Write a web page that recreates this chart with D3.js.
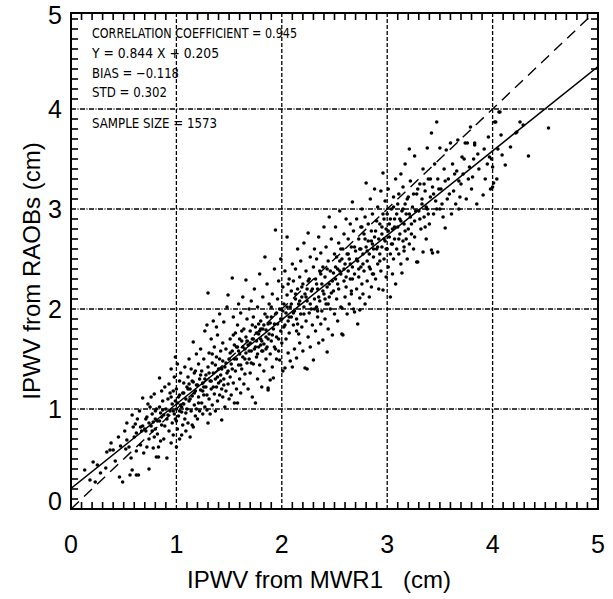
<!DOCTYPE html>
<html>
<head>
<meta charset="utf-8">
<script src="https://cdn.jsdelivr.net/npm/d3@7"></script>
<style>
  body { margin: 0; background: #fff; }
  svg text { font-family: "Liberation Sans", Arial, sans-serif; fill: #000; }
</style>
</head>
<body>
<svg id="chart" width="613" height="599"></svg>
<script>
// tick labels and titles
const xTicks = [0, 1, 2, 3, 4, 5];
const yTicks = [0, 1, 2, 3, 4, 5];
const xTitle = "IPWV from MWR1\u00a0\u00a0\u00a0(cm)";
const yTitle = "IPWV from RAOBs (cm)";

// statistics block
const statLines = [
  "CORRELATION COEFFICIENT = 0.945",
  "Y = 0.844 X + 0.205",
  "BIAS = \u22120.118",
  "STD = 0.302",
  "SAMPLE SIZE = 1573"
];
const fitSlope = 0.844;
const fitIntercept = 0.205;

// [MWR1, RAOB] pairs (cm)
const samples = [
  [0.13,0.39],[0.18,0.29],[0.23,0.27],[0.25,0.44],[0.28,0.36],[0.21,0.47],
  [0.34,0.57],[0.37,0.59],[0.4,0.59],[0.45,0.72],[0.46,0.32],[0.49,0.27],[0.42,0.48],[0.33,0.41],[0.47,0.63],[0.38,0.66],
  [0.53,0.86],[0.53,0.69],[0.56,0.34],[0.58,0.94],[0.58,0.39],[0.62,0.34],[0.64,0.34],[0.51,0.78],[0.55,0.62],[0.6,0.72],[0.61,0.85],
  [0.63,0.9],[0.66,0.64],[0.68,1.11],[0.67,0.78],[0.69,0.56],[0.57,0.51],[0.65,0.98],[0.52,0.6],[0.59,0.82],[0.62,0.58],[0.68,0.83],
  [0.72,0.92],[0.74,0.4],[0.74,0.7],[0.75,1.02],[0.76,0.83],[0.78,0.61],[0.79,1.15],[0.8,0.9],[0.81,0.52],[0.82,0.75],[0.83,0.62],
  [0.83,0.52],[0.84,1.31],[0.85,0.96],[0.86,0.84],[0.87,1.08],[0.88,0.7],[0.89,1.22],[0.71,0.78],[0.73,1.05],[0.77,0.95],[0.79,0.72],
  [0.81,1.0],[0.84,0.88],[0.86,1.18],[0.88,0.94],[0.72,0.62],[0.76,1.12],[0.8,0.8],[0.85,0.68],[0.87,0.99],[0.89,0.83],[0.78,0.87],
  [0.91,0.51],[0.91,0.9],[0.92,1.1],[0.93,0.78],[0.93,1.25],[0.94,0.98],[0.95,0.66],[0.95,1.4],[0.96,1.05],[0.96,0.86],[0.97,1.18],
  [0.97,0.74],[0.98,1.32],[0.98,0.95],[0.99,1.52],[0.99,1.08],[1.0,0.62],[1.0,0.88],[1.0,1.0],[1.0,1.2],[1.01,0.8],[1.01,1.45],
  [1.02,1.12],[1.02,0.93],[1.03,1.28],[1.03,0.7],[1.04,1.04],[1.04,1.36],[1.05,0.74],[1.05,0.97],[1.06,1.16],[1.06,0.84],[1.07,1.26],
  [1.07,1.05],[1.08,0.9],[1.08,1.42],[1.09,1.1],[1.09,0.78],[1.1,1.22],[1.1,1.0],[0.94,1.16],[1.03,0.98],
  [1.11,0.86],[1.11,1.32],[1.12,1.08],[1.12,1.5],[1.13,0.72],[1.13,1.2],[1.14,0.98],[1.14,1.4],[1.15,1.13],[1.15,0.84],[1.16,1.67],
  [1.16,0.82],[1.16,1.27],[1.17,1.04],[1.17,1.36],[1.18,0.93],[1.18,1.18],[1.19,1.55],[1.19,1.0],[1.2,1.24],[1.2,0.9],[1.21,1.45],
  [1.21,1.12],[1.22,1.3],[1.22,0.98],[1.23,1.6],[1.23,1.19],[1.24,1.06],[1.24,1.38],[1.25,0.95],[1.25,1.26],[1.26,1.5],[1.26,1.14],
  [1.27,1.78],[1.27,1.02],[1.28,1.34],[1.28,1.22],[1.29,1.84],[1.29,0.99],[1.3,1.42],[1.3,0.86],[1.3,2.16],
  [1.31,1.1],[1.31,1.56],[1.32,1.28],[1.32,0.95],[1.33,1.7],[1.33,1.2],[1.34,1.46],[1.34,1.04],[1.35,1.36],[1.35,1.88],[1.36,1.15],
  [1.36,1.62],[1.37,1.3],[1.37,0.98],[1.38,1.52],[1.38,1.22],[1.39,1.74],[1.39,1.08],[1.4,1.4],[1.4,1.26],[1.41,1.95],[1.41,1.14],
  [1.42,1.58],[1.42,1.34],[1.43,0.89],[1.43,1.2],[1.44,1.48],[1.44,1.66],[1.45,1.87],[1.45,1.3],[1.46,1.02],[1.46,1.42],[1.47,1.6],
  [1.47,1.18],[1.48,1.36],[1.48,2.02],[1.49,2.14],[1.49,1.25],[1.5,1.5],[1.5,1.1],[1.38,1.82],[1.44,1.12],
  [1.51,1.32],[1.51,1.7],[1.52,1.45],[1.52,1.14],[1.53,2.31],[1.53,1.58],[1.54,1.26],[1.54,1.92],[1.55,1.5],[1.55,1.06],[1.56,1.76],
  [1.56,1.38],[1.57,1.62],[1.57,1.2],[1.58,1.06],[1.58,1.84],[1.59,1.44],[1.59,2.05],[1.6,1.55],[1.6,1.3],[1.61,1.96],[1.61,1.16],
  [1.62,1.68],[1.62,1.4],[1.63,2.12],[1.63,1.52],[1.64,1.25],[1.64,1.8],[1.65,1.6],[1.65,1.35],[1.66,2.29],[1.66,1.72],[1.67,1.46],
  [1.67,1.9],[1.68,1.2],[1.68,1.64],[1.69,2.0],[1.69,1.5],[1.7,1.36],[1.7,1.78],[1.58,1.62],[1.66,1.56],
  [1.71,1.58],[1.71,2.08],[1.72,1.12],[1.72,1.7],[1.73,1.45],[1.73,1.92],[1.74,1.6],[1.74,2.2],[1.75,1.06],[1.75,1.82],[1.76,1.52],
  [1.76,1.68],[1.77,2.02],[1.77,1.3],[1.78,1.75],[1.78,1.62],[1.79,2.35],[1.79,1.44],[1.8,1.88],[1.8,1.7],[1.81,1.22],[1.81,1.58],
  [1.82,2.12],[1.82,1.8],[1.83,1.65],[1.83,1.38],[1.84,2.52],[1.84,1.95],[1.85,1.72],[1.85,1.5],[1.86,2.25],[1.86,1.62],[1.87,1.21],
  [1.87,1.85],[1.87,1.19],[1.88,1.75],[1.88,2.05],[1.89,1.29],[1.89,1.55],[1.9,1.92],[1.9,1.68],[1.76,1.76],[1.8,1.64],[1.85,1.79],[1.78,1.85],
  [1.91,1.42],[1.91,2.15],[1.92,1.31],[1.92,1.8],[1.93,2.4],[1.93,1.62],[1.94,2.79],[1.94,1.95],[1.95,1.72],[1.95,1.5],[1.96,2.1],
  [1.96,1.85],[1.97,2.28],[1.97,1.58],[1.98,1.49],[1.98,2.0],[1.99,1.78],[1.99,2.5],[2.0,1.9],[2.0,1.66],[2.01,2.22],[2.01,1.38],
  [2.02,1.82],[2.02,2.05],[2.03,1.41],[2.03,2.38],[2.04,1.96],[2.04,1.7],[2.05,2.72],[2.05,2.14],[2.06,1.56],[2.06,1.88],[2.07,2.3],
  [2.07,1.76],[2.08,2.02],[2.08,1.48],[2.09,2.18],[2.09,1.92],[2.1,1.42],[2.1,2.45],
  [2.11,1.84],[2.11,2.28],[2.12,1.98],[2.12,1.6],[2.13,2.4],[2.13,2.1],[2.14,1.51],[2.14,1.9],[2.15,2.2],[2.15,2.6],[2.16,1.75],
  [2.16,2.05],[2.17,2.32],[2.17,1.66],[2.18,1.95],[2.18,2.48],[2.19,2.12],[2.19,1.82],[2.2,2.25],[2.2,1.58],[2.21,2.02],[2.21,2.66],
  [2.22,1.41],[2.22,2.15],[2.23,1.88],[2.23,2.38],[2.24,1.4],[2.24,2.08],[2.25,2.76],[2.25,1.72],[2.26,2.3],[2.26,1.96],[2.27,2.52],
  [2.27,1.62],[2.28,2.18],[2.28,2.0],[2.29,1.84],[2.3,1.49],[2.3,2.42],
  [2.31,2.1],[2.31,2.6],[2.32,1.78],[2.32,2.3],[2.33,2.02],[2.33,2.5],[2.34,1.92],[2.34,2.2],[2.35,2.72],[2.35,1.66],[2.36,2.38],
  [2.36,2.08],[2.37,1.85],[2.37,2.56],[2.38,2.25],[2.38,1.98],[2.39,1.69],[2.39,2.42],[2.4,2.15],[2.4,2.82],[2.41,1.9],[2.41,2.32],
  [2.42,2.62],[2.42,2.05],[2.43,1.57],[2.43,2.22],[2.44,2.48],[2.44,1.8],[2.45,2.92],[2.45,2.12],[2.46,2.38],[2.46,2.0],[2.47,2.7],
  [2.48,2.28],[2.48,1.74],[2.49,2.18],[2.5,2.55],[2.5,1.95],
  [2.51,2.82],[2.51,2.3],[2.52,2.52],[2.52,2.1],[2.53,2.4],[2.53,1.88],[2.54,2.66],[2.54,2.2],[2.55,2.98],[2.55,2.48],[2.56,2.02],
  [2.56,2.35],[2.57,1.75],[2.57,2.01],[2.58,2.6],[2.58,1.74],[2.59,2.28],[2.59,2.75],[2.6,2.45],[2.6,2.12],[2.61,2.9],[2.61,2.22],
  [2.62,2.55],[2.62,1.95],[2.63,2.38],[2.63,2.7],[2.64,2.05],[2.64,2.5],[2.65,2.85],[2.65,2.3],[2.66,2.62],[2.66,2.15],[2.67,3.07],
  [2.67,2.42],[2.68,2.0],[2.68,2.78],[2.69,1.97],[2.69,2.35],[2.7,2.58],
  [2.71,2.2],[2.71,2.9],[2.72,1.85],[2.72,2.48],[2.73,2.7],[2.73,2.32],[2.74,1.99],[2.74,2.11],[2.74,2.6],[2.75,2.82],[2.75,2.42],
  [2.76,2.25],[2.76,3.0],[2.77,2.55],[2.77,2.15],[2.78,2.75],[2.78,2.38],[2.79,2.92],[2.79,2.05],[2.8,2.62],[2.8,3.26],[2.81,2.48],
  [2.81,2.28],[2.82,2.85],[2.82,2.68],[2.83,2.12],[2.83,2.55],[2.84,3.1],[2.84,2.4],[2.85,2.78],[2.85,2.22],[2.86,2.65],[2.86,2.95],
  [2.87,2.35],[2.87,2.52],[2.88,3.2],[2.88,2.72],[2.89,2.3],[2.9,2.6],[2.9,2.88],
  [2.91,2.45],[2.91,3.02],[2.92,2.7],[2.92,2.2],[2.93,2.85],[2.93,2.55],[2.94,3.18],[2.94,2.38],[2.95,2.75],[2.95,2.62],[2.96,3.36],
  [2.96,2.19],[2.97,2.9],[2.97,2.5],[2.98,2.68],[2.98,3.08],[2.99,2.32],[2.99,2.8],[3.0,2.6],[3.0,2.95],[3.01,3.2],[3.01,2.42],
  [3.02,2.72],[3.02,2.85],[3.03,2.12],[3.03,2.55],[3.04,3.0],[3.04,2.65],[3.05,2.35],[3.05,2.8],[3.06,3.12],[3.06,2.5],[3.07,2.9],
  [3.07,2.7],[3.08,2.25],[3.08,3.3],[3.09,2.6],[3.1,2.82],[3.1,3.05],
  [3.11,2.55],[3.11,3.15],[3.12,2.75],[3.12,2.9],[3.13,3.35],[3.13,2.45],[3.14,2.36],[3.14,2.98],[3.15,2.68],[3.15,3.22],[3.16,2.85],
  [3.16,2.58],[3.17,3.05],[3.17,3.45],[3.18,2.7],[3.18,2.95],[3.19,2.5],[3.2,3.12],[3.2,2.8],[3.21,3.6],[3.21,2.65],[3.22,2.92],
  [3.22,3.28],[3.23,2.75],[3.24,3.02],[3.25,2.6],[3.26,3.53],[3.26,2.88],[3.28,2.47],[3.28,3.15],[3.29,2.47],[3.3,2.98],
  [3.31,3.25],[3.32,2.8],[3.33,3.05],[3.34,2.57],[3.34,3.4],[3.35,2.92],[3.36,3.18],[3.37,2.7],[3.38,3.61],[3.38,3.0],[3.39,3.3],
  [3.4,2.85],[3.41,3.12],[3.42,3.76],[3.42,2.59],[3.43,2.56],[3.43,3.22],[3.44,2.95],[3.45,3.45],[3.46,3.08],[3.47,3.87],[3.48,2.57],
  [3.48,3.3],[3.5,3.61],[3.5,3.0],
  [3.51,3.2],[3.53,2.92],[3.54,3.4],[3.55,2.81],[3.56,3.59],[3.57,3.1],[3.58,3.3],[3.6,3.66],[3.61,2.95],[3.62,3.45],[3.63,3.18],
  [3.65,3.05],[3.66,3.38],[3.67,3.69],[3.68,3.0],[3.7,3.25],[3.71,3.52],[3.69,3.12],
  [3.72,3.35],[3.74,3.66],[3.75,3.1],[3.76,3.66],[3.78,3.42],[3.79,3.82],[3.8,3.2],[3.81,3.32],[3.82,3.5],[3.83,3.64],[3.85,3.05],
  [3.87,3.4],[3.83,3.66],
  [3.91,3.14],[3.93,3.3],[3.95,3.45],[3.96,3.72],[3.97,3.52],[3.98,3.2],[4.0,3.42],[4.0,3.22],[4.01,3.26],[4.02,3.87],[4.03,3.87],
  [4.05,3.6],[4.06,3.97],[4.07,3.97],[4.08,3.74],[4.09,3.54],[4.04,3.3],
  [4.12,3.44],[4.17,3.62],[4.22,3.76],[4.23,3.77],[4.26,3.87],[4.29,3.84],[4.34,3.53],[4.53,3.81]
];

// further [MWR1, RAOB] pairs from the dark core of the cloud, close to the fit line
const denseCore = [
  [0.62,0.76],[0.66,0.82],[0.7,0.8],[0.71,0.9],[0.74,0.86],[0.77,0.78],[0.8,0.98],[0.82,0.88],[0.84,1.02],[0.86,0.92],
  [0.9,1.0],[0.92,0.94],[0.95,1.12],[0.97,0.98],[0.99,0.9],
  [1.01,1.06],[1.03,1.14],[1.05,1.02],[1.07,1.16],[1.09,0.96],[1.11,1.2],[1.13,1.1],[1.15,1.28],[1.17,1.16],[1.19,1.24],
  [1.21,1.06],[1.23,1.34],[1.25,1.18],[1.27,1.3],[1.29,1.14],[1.31,1.36],[1.33,1.28],[1.35,1.22],[1.37,1.44],[1.39,1.32],
  [1.41,1.5],[1.43,1.4],[1.45,1.24],[1.47,1.46],[1.49,1.38],[1.12,1.25],[1.18,1.38],[1.26,1.22],[1.34,1.55],[1.42,1.28],
  [1.51,1.56],[1.53,1.4],[1.55,1.64],[1.57,1.5],[1.59,1.58],[1.61,1.44],[1.63,1.62],[1.65,1.5],[1.67,1.68],[1.69,1.58],
  [1.71,1.46],[1.73,1.7],[1.75,1.62],[1.77,1.55],[1.79,1.78],[1.81,1.68],[1.83,1.84],[1.85,1.6],[1.87,1.7],[1.89,1.86],
  [1.91,1.74],[1.93,1.85],[1.95,1.96],[1.97,1.7],[1.99,1.9],[1.54,1.74],[1.62,1.78],[1.72,1.84],[1.82,1.58],[1.9,2.02],
  [1.6,1.7],[1.7,1.66],[1.8,1.8],[1.86,1.92],[1.94,1.6],
  [2.01,1.98],[2.03,1.84],[2.05,2.02],[2.07,1.92],[2.09,2.05],[2.11,1.96],[2.13,2.15],[2.15,1.85],[2.17,2.08],[2.19,2.22],
  [2.21,1.95],[2.23,2.12],[2.25,2.28],[2.27,2.05],[2.29,2.2],[2.31,2.0],[2.33,2.25],[2.35,2.12],[2.37,2.35],[2.39,2.18],
  [2.41,2.1],[2.43,2.4],[2.45,2.25],[2.47,2.16],[2.49,2.36],[2.06,2.25],[2.14,1.78],[2.24,2.2],[2.34,1.98],[2.44,2.05],
  [2.51,2.42],[2.53,2.25],[2.55,2.38],[2.57,2.5],[2.59,2.4],[2.61,2.32],[2.63,2.55],[2.65,2.45],[2.67,2.3],[2.69,2.62],
  [2.71,2.5],[2.73,2.4],[2.75,2.6],[2.77,2.45],[2.79,2.7],[2.81,2.58],[2.83,2.42],[2.85,2.68],[2.87,2.6],[2.89,2.78],
  [2.91,2.62],[2.93,2.48],[2.95,2.82],[2.97,2.7],[2.99,2.6],[2.56,2.6],[2.66,2.18],[2.76,2.82],[2.86,2.35],[2.96,2.95],
  [3.01,2.78],[3.03,2.9],[3.05,2.65],[3.07,2.82],[3.09,2.95],[3.11,2.7],[3.13,2.88],[3.15,3.0],[3.17,2.78],[3.19,3.1],
  [3.21,2.95],[3.23,2.85],[3.25,3.15],[3.27,2.98],[3.29,3.2],[3.31,2.9],[3.33,3.1],[3.35,3.25],[3.37,3.02],[3.39,2.95],
  [3.41,3.3],[3.44,3.15],[3.47,3.0],[3.49,3.2],[3.06,3.02],[3.16,2.62],[3.26,2.72],[3.36,2.82],
  [3.52,3.05],[3.55,3.28],[3.59,3.15],[3.64,3.35],[3.68,3.28],[3.73,3.5],[3.77,3.3],[3.86,3.55],[3.92,3.6],[3.99,3.5]
];

const svg = d3.select('#chart');
svg.append('rect').attr('width', 613).attr('height', 599).attr('fill', '#fff');

const x = d3.scaleLinear().domain([0, 5]).range([71, 598]);
const y = d3.scaleLinear().domain([0, 5]).range([509, 9]);
const yTop = 4.96; // frame top sits just under 5

const plotLeft = x(0), plotRight = x(5), plotBottom = y(0), plotTop = y(yTop);

svg.append('clipPath').attr('id', 'plotClip')
  .append('rect').attr('x', plotLeft).attr('y', plotTop)
  .attr('width', plotRight - plotLeft).attr('height', plotBottom - plotTop);

// grid lines at whole numbers
svg.selectAll('.vgrid').data(xTicks.slice(1, -1)).join('line').attr('class', 'vgrid')
  .attr('x1', d => x(d)).attr('x2', d => x(d)).attr('y1', plotTop).attr('y2', plotBottom)
  .attr('stroke', '#000').attr('stroke-width', 1.3).attr('stroke-dasharray', '4,2');

svg.selectAll('.hgrid').data(yTicks.slice(1, -1)).join('line').attr('class', 'hgrid')
  .attr('x1', plotLeft).attr('x2', plotRight).attr('y1', d => y(d)).attr('y2', d => y(d))
  .attr('stroke', '#000').attr('stroke-width', 1.3).attr('stroke-dasharray', '5,1.5,1,1.5');

// points
svg.append('g').selectAll('circle').data(samples.concat(denseCore)).join('circle')
  .attr('cx', d => x(d[0])).attr('cy', d => y(d[1])).attr('r', 1.8).attr('fill', '#000');

// fit line and 1:1 line
const lines = svg.append('g').attr('clip-path', 'url(#plotClip)');
const line = d3.line().x(d => x(d[0])).y(d => y(d[1]));
lines.append('path').attr('d', line([[0, 0], [5, 5]]))
  .attr('fill', 'none').attr('stroke', '#000').attr('stroke-width', 1.4).attr('stroke-dasharray', '11,7');
lines.append('path').attr('d', line([[0, fitIntercept], [5, fitIntercept + 5 * fitSlope]]))
  .attr('fill', 'none').attr('stroke', '#000').attr('stroke-width', 1.5);

// minor ticks on all four sides
const minorX = d3.range(1, 50).filter(i => i % 10 !== 0).map(i => i / 10);
const minorY = d3.range(1, 50).filter(i => i % 10 !== 0).map(i => i / 10);
const tickLen = 7;
const ticks = svg.append('g').attr('stroke', '#000').attr('stroke-width', 1.6);
ticks.selectAll('.tb').data(minorX).join('line').attr('class', 'tb')
  .attr('x1', d => x(d)).attr('x2', d => x(d)).attr('y1', plotBottom).attr('y2', plotBottom - tickLen);
ticks.selectAll('.tt').data(minorX).join('line').attr('class', 'tt')
  .attr('x1', d => x(d)).attr('x2', d => x(d)).attr('y1', plotTop).attr('y2', plotTop + tickLen);
ticks.selectAll('.tl').data(minorY).join('line').attr('class', 'tl')
  .attr('y1', d => y(d)).attr('y2', d => y(d)).attr('x1', plotLeft).attr('x2', plotLeft + tickLen);
ticks.selectAll('.tr').data(minorY).join('line').attr('class', 'tr')
  .attr('y1', d => y(d)).attr('y2', d => y(d)).attr('x1', plotRight).attr('x2', plotRight - tickLen);

// frame
svg.append('rect').attr('x', plotLeft).attr('y', plotTop)
  .attr('width', plotRight - plotLeft).attr('height', plotBottom - plotTop)
  .attr('fill', 'none').attr('stroke', '#000').attr('stroke-width', 2);

// tick labels
svg.selectAll('.xlab').data(xTicks).join('text').attr('class', 'xlab')
  .attr('x', d => x(d)).attr('y', 553).attr('text-anchor', 'middle')
  .style('font-size', '25px').text(d => d);

svg.selectAll('.ylab').data(yTicks).join('text').attr('class', 'ylab')
  .attr('x', 62).attr('y', d => d === 0 ? y(d) - 8 : d === 5 ? plotTop + 2 : y(d))
  .attr('dy', '0.36em').attr('text-anchor', 'end')
  .style('font-size', '25px').text(d => d);

// axis titles
svg.append('text').attr('x', 319).attr('y', 588).attr('text-anchor', 'middle')
  .style('font-size', '24px').text(xTitle);

svg.append('text').attr('transform', 'translate(40,271) rotate(-90)').attr('text-anchor', 'middle')
  .style('font-size', '24px').text(yTitle);

// statistics text
const statY = [38, 58, 78, 97, 128];
const statW = [205, 127, 87, 75, 125];
svg.selectAll('.stat').data(statLines).join('text').attr('class', 'stat')
  .attr('x', 92).attr('y', (d, i) => statY[i])
  .attr('textLength', (d, i) => statW[i]).attr('lengthAdjust', 'spacingAndGlyphs')
  .style('font-size', '14px').style('font-family', '"Liberation Sans Narrow", "DejaVu Sans Condensed", sans-serif')
  .text(d => d);
</script>
</body>
</html>
